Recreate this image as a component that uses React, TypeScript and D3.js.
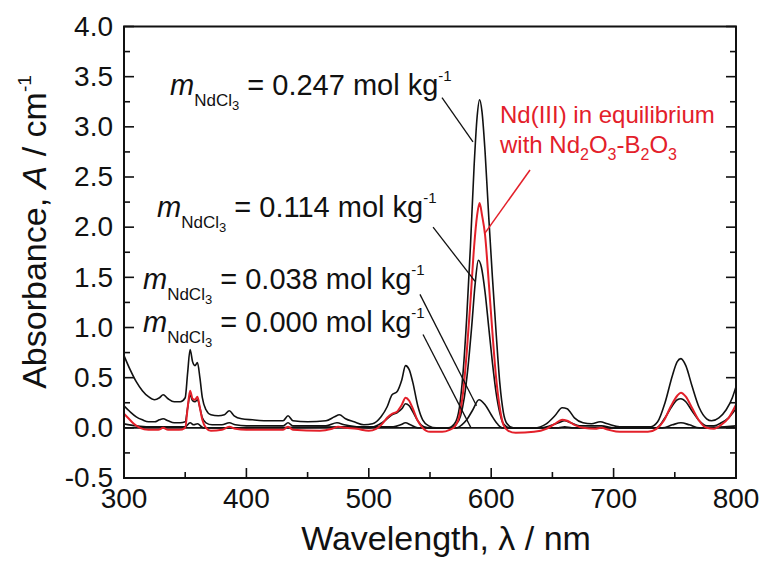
import React from "react";
import * as d3 from "d3";

// Absorption spectra of NdCl3 in the melt, [wavelength nm, absorbance cm^-1]
const spectrum0247: [number, number][] = [
  [300, 0.72], [305, 0.58], [310, 0.46], [315, 0.37], [320, 0.31], [325, 0.28], [329, 0.3], [332, 0.33],
  [336, 0.29], [341, 0.26], [346, 0.26], [350, 0.3], [352, 0.55], [354, 0.78], [356, 0.66], [358, 0.62],
  [360, 0.65], [362, 0.5], [364, 0.3], [367, 0.18], [371, 0.13], [377, 0.12], [382, 0.13], [386, 0.17],
  [390, 0.12], [396, 0.09], [405, 0.08], [420, 0.07], [430, 0.07], [434, 0.12], [438, 0.07], [450, 0.06],
  [465, 0.07], [472, 0.11], [476, 0.13], [481, 0.09], [488, 0.06], [496, 0.03], [503, 0.04], [510, 0.11],
  [515, 0.21], [519, 0.33], [523, 0.36], [527, 0.48], [530, 0.62], [533, 0.58], [536, 0.45], [540, 0.22],
  [544, 0.08], [549, 0.02], [555, 0.0], [565, 0.0], [570, 0.04], [574, 0.2], [577, 0.55], [580, 1.1],
  [583, 1.8], [586, 2.6], [588.5, 3.1], [590.5, 3.27], [592.5, 3.15], [595, 2.75], [598, 2.1], [601, 1.5],
  [604, 0.95], [607, 0.45], [610, 0.15], [613, 0.04], [618, 0.0], [635, 0.0], [645, 0.04], [652, 0.12],
  [658, 0.2], [662, 0.19], [668, 0.1], [675, 0.05], [682, 0.04], [689, 0.06], [695, 0.04], [705, 0.01],
  [730, 0.01], [736, 0.06], [742, 0.25], [748, 0.52], [752, 0.66], [755, 0.69], [759, 0.62], [764, 0.42],
  [770, 0.2], [776, 0.09], [780, 0.07], [786, 0.1], [792, 0.18], [797, 0.3], [800, 0.41],
];

const spectrum0114: [number, number][] = [
  [300, 0.22], [305, 0.16], [310, 0.11], [315, 0.08], [320, 0.06], [325, 0.06], [329, 0.08], [332, 0.09],
  [336, 0.07], [341, 0.05], [346, 0.05], [350, 0.06], [352, 0.2], [354, 0.33], [356, 0.27], [358, 0.26],
  [360, 0.28], [362, 0.2], [364, 0.1], [367, 0.05], [372, 0.03], [380, 0.03], [386, 0.05], [391, 0.03],
  [400, 0.02], [430, 0.02], [434, 0.05], [438, 0.02], [465, 0.02], [474, 0.05], [480, 0.03], [490, 0.01],
  [500, 0.0], [508, 0.03], [514, 0.08], [519, 0.13], [523, 0.15], [527, 0.19], [530, 0.24], [533, 0.22],
  [536, 0.16], [540, 0.07], [545, 0.01], [550, 0.0], [568, 0.0], [571, 0.03], [575, 0.12], [578, 0.3],
  [581, 0.6], [584, 1.0], [587, 1.45], [589.5, 1.67], [592, 1.6], [595, 1.35], [598, 1.0], [601, 0.65],
  [604, 0.35], [607, 0.15], [610, 0.04], [615, 0.0], [640, 0.0], [648, 0.02], [655, 0.05], [660, 0.07],
  [665, 0.05], [672, 0.02], [690, 0.02], [700, 0.0], [735, 0.0], [742, 0.1], [748, 0.22], [752, 0.28],
  [755, 0.29], [759, 0.26], [764, 0.17], [770, 0.07], [776, 0.02], [782, 0.02], [788, 0.05], [794, 0.1],
  [800, 0.19],
];

const spectrum0038: [number, number][] = [
  [300, 0.04], [310, 0.02], [320, 0.01], [350, 0.01], [354, 0.05], [357, 0.03], [360, 0.04], [365, 0.0],
  [400, 0.0], [480, 0.01], [520, 0.01], [526, 0.03], [530, 0.05], [534, 0.03], [540, 0.0], [572, 0.0],
  [576, 0.03], [580, 0.08], [585, 0.18], [590, 0.28], [595, 0.23], [600, 0.13], [605, 0.04], [609, 0.0],
  [655, 0.0], [660, 0.01], [666, 0.0], [740, 0.0], [748, 0.03], [755, 0.05], [762, 0.03], [770, 0.0],
  [800, 0.02],
];

const spectrum0000: [number, number][] = [
  [300, 0.0], [800, 0.0],
];

// Nd(III) in equilibrium with Nd2O3-B2O3
const spectrumEquilibrium: [number, number][] = [
  [300, 0.14], [304, 0.09], [308, 0.04], [313, 0.0], [320, -0.02], [328, -0.02], [332, 0.0], [336, -0.02],
  [345, -0.02], [350, 0.0], [352, 0.2], [354, 0.37], [356, 0.29], [358, 0.28], [360, 0.31], [362, 0.2],
  [364, 0.08], [367, 0.0], [371, -0.03], [380, -0.02], [386, 0.01], [391, -0.01], [400, -0.02], [430, -0.02],
  [434, 0.01], [438, -0.02], [460, -0.03], [470, -0.01], [475, 0.01], [481, 0.0], [490, -0.01], [500, -0.03],
  [506, -0.01], [511, 0.04], [515, 0.1], [519, 0.14], [523, 0.16], [527, 0.23], [530, 0.3], [533, 0.27],
  [536, 0.19], [540, 0.07], [544, 0.0], [550, -0.04], [560, -0.04], [566, -0.02], [570, 0.01], [574, 0.12],
  [577, 0.35], [580, 0.75], [583, 1.25], [586, 1.8], [588.5, 2.12], [590.5, 2.24], [592.5, 2.12], [595, 1.92],
  [598, 1.45], [601, 0.95], [604, 0.5], [607, 0.2], [610, 0.03], [614, -0.03], [620, -0.05], [635, -0.04],
  [645, -0.01], [652, 0.04], [658, 0.08], [662, 0.07], [668, 0.03], [675, 0.0], [685, -0.01], [690, 0.0],
  [696, -0.02], [705, -0.04], [728, -0.04], [735, -0.01], [741, 0.07], [747, 0.22], [752, 0.32], [755, 0.35],
  [759, 0.31], [764, 0.2], [770, 0.07], [776, 0.0], [782, -0.01], [788, 0.03], [794, 0.1], [800, 0.23],
];

const molalities = ["0.247", "0.114", "0.038", "0.000"];
// label anchor [wavelength, absorbance] and leader line [from, to] in data units
const labelAnchors: [number, number][] = [[337.6, 3.32], [327, 2.1], [315.5, 1.38], [315.5, 0.96]];
const leaderLines: [[number, number], [number, number]][] = [
  [[559.8, 3.29], [585.1, 2.85]],
  [[552.5, 2.0], [586.8, 1.46]],
  [[541.8, 1.33], [588, 0.22]],
  [[544.3, 0.93], [583.5, 0.0]],
];
const equilibriumLabelAnchor: [number, number] = [607.2, 3.04];
const equilibriumLeader: [[number, number], [number, number]] = [[631.7, 2.57], [594.9, 1.94]];

const xTicksMajor = [300, 400, 500, 600, 700, 800];
const xTicksMinor = [350, 450, 550, 650, 750];
const yTicksMajor = [-0.5, 0.0, 0.5, 1.0, 1.5, 2.0, 2.5, 3.0, 3.5, 4.0];
const yTicksMinor = [-0.25, 0.25, 0.75, 1.25, 1.75, 2.25, 2.75, 3.25, 3.75];

const W = 762;
const H = 563;
const FONT = "'Liberation Sans', Arial, Helvetica, sans-serif";
const RED = "#e3202a";

export default function App() {
  const x = d3.scaleLinear().domain([300, 800]).range([124, 736]);
  const y = d3.scaleLinear().domain([-0.5, 4.0]).range([478, 26.5]);
  const line = d3
    .line<[number, number]>()
    .x((d) => x(d[0]))
    .y((d) => y(d[1]))
    .curve(d3.curveMonotoneX);

  const blackSeries = [spectrum0000, spectrum0038, spectrum0114, spectrum0247];
  const [x0, x1] = x.range();
  const [yb, yt] = y.range();
  // plain hyphen for negative tick values
  const fmt = (v: number) => d3.format(".1f")(v).replace("\u2212", "-");

  return (
    <svg
      width={W}
      height={H}
      viewBox={`0 0 ${W} ${H}`}
      style={{ position: "absolute", left: 0, top: 0, background: "#fff" }}
      fontFamily={FONT}
    >
      <defs>
        <clipPath id="plot-area">
          <rect x={x0} y={yt} width={x1 - x0} height={yb - yt} />
        </clipPath>
      </defs>

      <g clipPath="url(#plot-area)" fill="none">
        {blackSeries.map((s, i) => (
          <path key={i} d={line(s) ?? ""} stroke="#111" strokeWidth={1.6} />
        ))}
        <path d={line(spectrumEquilibrium) ?? ""} stroke={RED} strokeWidth={2} />
      </g>

      {/* leader lines */}
      {leaderLines.map(([a, b], i) => (
        <line key={i} x1={x(a[0])} y1={y(a[1])} x2={x(b[0])} y2={y(b[1])} stroke="#111" strokeWidth={1.3} />
      ))}
      <line
        x1={x(equilibriumLeader[0][0])}
        y1={y(equilibriumLeader[0][1])}
        x2={x(equilibriumLeader[1][0])}
        y2={y(equilibriumLeader[1][1])}
        stroke={RED}
        strokeWidth={1.5}
      />

      {/* molality labels */}
      {molalities.map((m, i) => (
        <text key={m} x={x(labelAnchors[i][0])} y={y(labelAnchors[i][1])} fontSize={29} fill="#111">
          <tspan fontStyle="italic">m</tspan>
          <tspan fontSize={17} dy={11}>NdCl</tspan>
          <tspan fontSize={13} dy={4}>3</tspan>
          <tspan fontSize={29} dy={-15}>{` = ${m} mol kg`}</tspan>
          <tspan fontSize={15} dy={-14}>-1</tspan>
        </text>
      ))}

      {/* equilibrium label */}
      <text x={x(equilibriumLabelAnchor[0])} y={y(equilibriumLabelAnchor[1])} fontSize={24} fill={RED}>
        Nd(III) in equilibrium
      </text>
      <text
        x={x(equilibriumLabelAnchor[0])}
        y={y(equilibriumLabelAnchor[1]) + 30}
        fontSize={24}
        fill={RED}
      >
        <tspan>with Nd</tspan>
        <tspan fontSize={16} dy={7}>2</tspan>
        <tspan dy={-7}>O</tspan>
        <tspan fontSize={16} dy={7}>3</tspan>
        <tspan dy={-7}>-B</tspan>
        <tspan fontSize={16} dy={7}>2</tspan>
        <tspan dy={-7}>O</tspan>
        <tspan fontSize={16} dy={7}>3</tspan>
      </text>

      {/* frame */}
      <rect x={x0} y={yt} width={x1 - x0} height={yb - yt} fill="none" stroke="#111" strokeWidth={2} />

      {/* x ticks */}
      {xTicksMajor.map((t) => (
        <g key={`xm${t}`}>
          <line x1={x(t)} x2={x(t)} y1={yb} y2={yb - 10} stroke="#111" strokeWidth={1.6} />
          <text x={x(t)} y={yb + 30} fontSize={28} textAnchor="middle" fill="#111">
            {t}
          </text>
        </g>
      ))}
      {xTicksMinor.map((t) => (
        <line key={`xn${t}`} x1={x(t)} x2={x(t)} y1={yb} y2={yb - 6} stroke="#111" strokeWidth={1.6} />
      ))}

      {/* y ticks, left and right */}
      {yTicksMajor.map((t) => (
        <g key={`ym${t}`}>
          <line x1={x0} x2={x0 + 10} y1={y(t)} y2={y(t)} stroke="#111" strokeWidth={1.6} />
          <line x1={x1} x2={x1 - 10} y1={y(t)} y2={y(t)} stroke="#111" strokeWidth={1.6} />
          <text x={x0 - 11} y={y(t)} dy="0.33em" fontSize={28} textAnchor="end" fill="#111">
            {fmt(t)}
          </text>
        </g>
      ))}
      {yTicksMinor.map((t) => (
        <g key={`yn${t}`}>
          <line x1={x0} x2={x0 + 6} y1={y(t)} y2={y(t)} stroke="#111" strokeWidth={1.6} />
          <line x1={x1} x2={x1 - 6} y1={y(t)} y2={y(t)} stroke="#111" strokeWidth={1.6} />
        </g>
      ))}

      {/* axis titles */}
      <text x={446} y={550} fontSize={34} textAnchor="middle" fill="#111">
        Wavelength, λ / nm
      </text>
      <text transform="translate(46,232) rotate(-90)" fontSize={34} textAnchor="middle" fill="#111">
        <tspan>Absorbance, </tspan>
        <tspan fontStyle="italic">A</tspan>
        <tspan> / cm</tspan>
        <tspan fontSize={19} dy={-15}>-1</tspan>
      </text>
    </svg>
  );
}
